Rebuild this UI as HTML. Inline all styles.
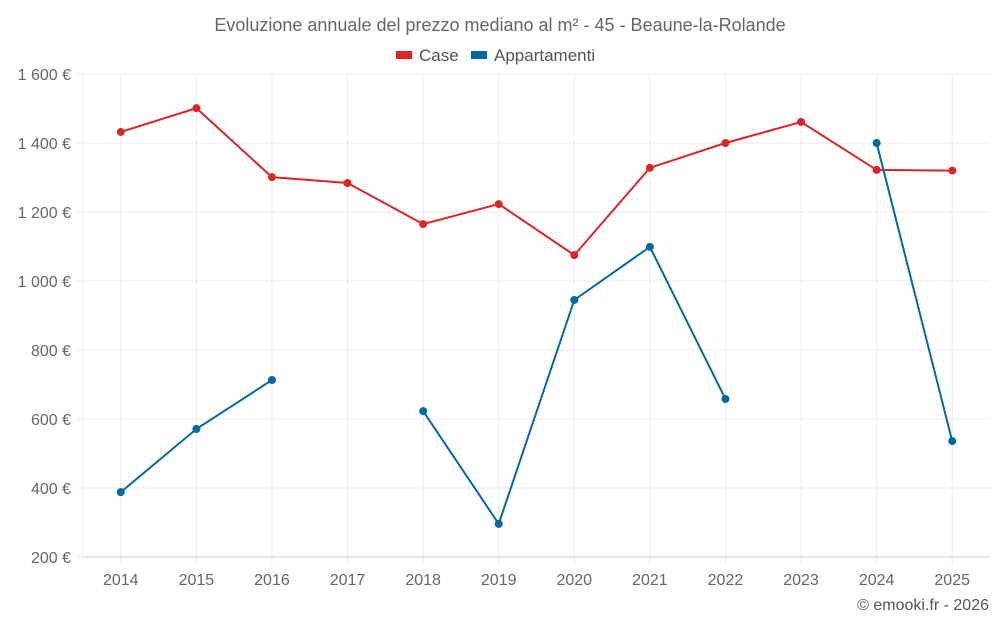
<!DOCTYPE html>
<html><head><meta charset="utf-8"><style>
body{margin:0;background:#fff;font-family:"Liberation Sans",sans-serif}
svg text{font-family:"Liberation Sans",sans-serif}
</style></head><body>
<svg id="c" width="1000" height="625"></svg>
<script>
const years=["2014","2015","2016","2017","2018","2019","2020","2021","2022","2023","2024","2025"];
const caseVals=[1432,1501,1301,1284,1165,1223,1075,1328,1400,1461,1322,1320];
const appVals=[388,571,713,null,623,296,945,1099,658,null,1400,536];
const yTicks=[200,400,600,800,1000,1200,1400,1600];
const yTickLabels=["200 €","400 €","600 €","800 €","1 000 €","1 200 €","1 400 €","1 600 €"];
const L=83,R=990,T=74,B=557;
const bw=(R-L)/years.length;
const xs=i=>L+bw*(i+0.5);
const ys=v=>B-(v-200)/(1600-200)*(B-T);
const svg=document.getElementById('c');
const NS="http://www.w3.org/2000/svg";
function mk(t,a,p){const e=document.createElementNS(NS,t);for(const k in a)e.setAttribute(k,a[k]);(p||svg).appendChild(e);return e;}
let e;
e=mk('text',{x:500,y:31,'text-anchor':'middle','font-size':18,fill:'#666'});e.textContent="Evoluzione annuale del prezzo mediano al m² - 45 - Beaune-la-Rolande";


e=mk('rect',{x:396,y:51,width:16,height:8,fill:'#dc2626'});


e=mk('text',{x:419,y:61,'font-size':17,fill:'#555'});e.textContent="Case";


e=mk('rect',{x:471,y:51,width:16,height:8,fill:'#0369a1'});


e=mk('text',{x:494,y:61,'font-size':17,fill:'#555'});e.textContent="Appartamenti";


yTicks.forEach((v,i)=>{
 e=mk('line',{x1:76,x2:R,y1:ys(v),y2:ys(v),stroke:'#ebebeb'});
 
 
 e=mk('text',{x:71,y:ys(v)+6,'text-anchor':'end','font-size':16,fill:'#666'});e.textContent=yTickLabels[i];
 
 
});
e=mk('line',{x1:L,x2:L,y1:T,y2:B,stroke:'#ebebeb'});


years.forEach((y,i)=>{
 e=mk('line',{x1:xs(i),x2:xs(i),y1:T,y2:B+7,stroke:'#ebebeb'});
 
 
 e=mk('text',{x:xs(i),y:585,'text-anchor':'middle','font-size':16,fill:'#666'});e.textContent=y;
 
 
});
e=mk('line',{x1:L,x2:R,y1:B,y2:B,stroke:'#d0d0d0'});


function series(vals,color,name){
 let d='',pen=false;
 vals.forEach((v,i)=>{if(v==null){pen=false;return;}d+=(pen?'L':'M')+xs(i)+' '+ys(v)+' ';pen=true;});
 e=mk('path',{d:d,fill:'none',stroke:color,'stroke-width':2});
 
 
 vals.forEach((v,i)=>{if(v==null)return;
  e=mk('circle',{cx:xs(i),cy:ys(v),r:4,fill:color});
  
  
 });
}
series(caseVals,'#dc2626','case');
series(appVals,'#0369a1','appartamenti');
e=mk('text',{x:989,y:610,'text-anchor':'end','font-size':16,fill:'#555'});e.textContent="© emooki.fr - 2026";


</script>
</body></html>
